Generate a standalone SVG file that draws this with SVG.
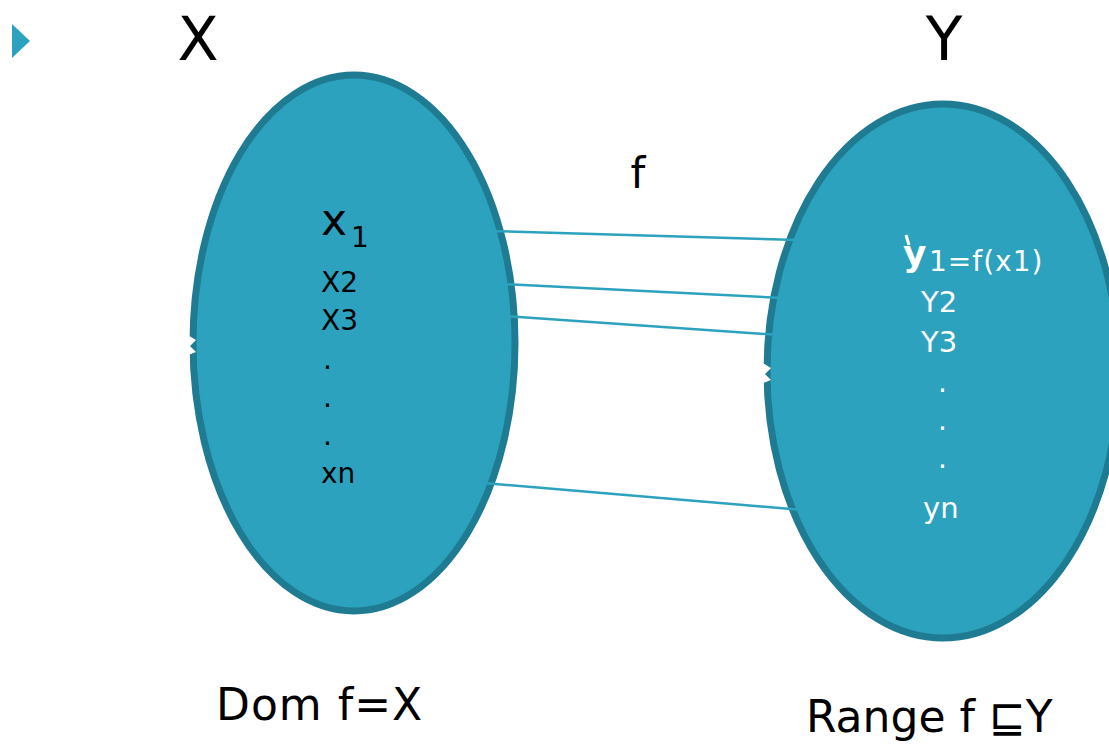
<svg xmlns="http://www.w3.org/2000/svg" width="1109" height="744" viewBox="0 0 1109 744">
  <style>
    .set-fill { fill: #2ca2be; stroke: #1f7b91; stroke-width: 7; }
    .set-inner { fill: none; stroke: #2ca2be; stroke-width: 1.5; }
    .map { stroke: #2ca2be; stroke-width: 2.5; fill: none; }
    .lbl { font-family: "DejaVu Sans", "Liberation Sans", sans-serif; fill: #000; }
    .wht { font-family: "DejaVu Sans", "Liberation Sans", sans-serif; fill: #fff; }
  </style>
  <rect width="1109" height="744" fill="#fff"/>

  <!-- bullet -->
  <polygon points="12,24 12,58 30,41" fill="#2ca2be"/>

  <!-- set titles -->
  <text class="lbl" x="198" y="60" font-size="60" text-anchor="middle">X</text>
  <text class="lbl" x="944" y="60" font-size="60" text-anchor="middle">Y</text>
  <text class="lbl" x="638" y="188" font-size="42" text-anchor="middle">f</text>

  <!-- domain set -->
  <g id="domain">
    <ellipse class="set-fill" cx="354" cy="343" rx="161" ry="268"/>
    <ellipse class="set-inner" cx="354" cy="343" rx="155" ry="262"/>
    <path d="M186,334 L196,340 L190,346 L196,352 L186,356 Z" fill="#fff"/>
    <text class="lbl" x="321" y="235" font-size="44">x</text>
    <text class="lbl" x="351" y="247" font-size="28">1</text>
    <text class="lbl" x="321" y="292" font-size="28">X2</text>
    <text class="lbl" x="321" y="330" font-size="28">X3</text>
    <text class="lbl" x="323" y="369" font-size="28">.</text>
    <text class="lbl" x="323" y="407" font-size="28">.</text>
    <text class="lbl" x="323" y="445" font-size="28">.</text>
    <text class="lbl" x="321" y="483" font-size="28">xn</text>
  </g>

  <!-- codomain set -->
  <g id="codomain">
    <ellipse class="set-fill" cx="943" cy="371" rx="176" ry="267"/>
    <ellipse class="set-inner" cx="943" cy="371" rx="170" ry="261"/>
    <path d="M761,362 L771,368 L765,374 L771,380 L761,384 Z" fill="#fff"/>
    <text class="wht" x="903" y="266" font-size="36" font-weight="bold">y</text>
    <line x1="906" y1="235" x2="909" y2="245" stroke="#fff" stroke-width="3"/>
    <text class="wht" x="929" y="271" font-size="28" letter-spacing="1">1=f(x1)</text>
    <text class="wht" x="921" y="312" font-size="29">Y2</text>
    <text class="wht" x="921" y="352" font-size="29">Y3</text>
    <text class="wht" x="938" y="392" font-size="28">.</text>
    <text class="wht" x="938" y="430" font-size="28">.</text>
    <text class="wht" x="938" y="468" font-size="28">.</text>
    <text class="wht" x="923" y="518" font-size="29">yn</text>
  </g>

  <!-- mapping lines -->
  <g id="connectors">
    <line class="map" x1="491" y1="231" x2="798" y2="240"/>
    <line class="map" x1="502" y1="284" x2="783" y2="298"/>
    <line class="map" x1="506" y1="316" x2="780" y2="335"/>
    <line class="map" x1="483" y1="483" x2="803" y2="510"/>
  </g>

  <!-- captions -->
  <text class="lbl" x="216" y="720" font-size="44" letter-spacing="1">Dom f=X</text>
  <text class="lbl" x="806" y="732" font-size="44">Range f ⊑Y</text>
</svg>
